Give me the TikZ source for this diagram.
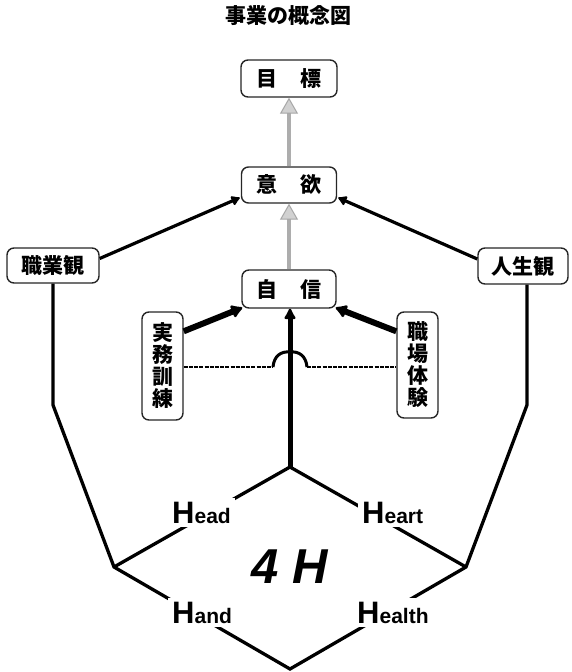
\documentclass[tikz,border=0pt]{standalone}
\usepackage{fontspec}
\newfontfamily\jp{Noto Sans CJK JP}
\newfontfamily\lat{Liberation Sans}
\usetikzlibrary{arrows.meta}
\begin{document}
\begin{tikzpicture}[x=1pt,y=-1pt,
  box/.style={draw=black!85, line width=1.4pt, rounded corners=7pt, fill=white, inner sep=0pt,
    font=\jp\bfseries\fontsize{21}{21}\selectfont},
  vbox/.style={box, align=center, font=\jp\bfseries\fontsize{21}{22}\selectfont},
  grayarrow/.style={line width=4.5pt, draw=black!32,
    -{Triangle[length=16pt,width=18pt,fill=black!18,color=black!35,line width=1pt]}},
  toarrow/.style={line width=3.2pt, -{Latex[round,length=10pt,width=12pt]}},
  thickarrow/.style={line width=6pt, -{Latex[round,length=13pt,width=16pt]}},
  centerarrow/.style={line width=5pt, -{Latex[round,length=13pt,width=14pt]}},
  edge/.style={line width=3.3pt},
  dashline/.style={line width=2pt, dash pattern=on 4pt off 1.2pt},
  bump/.style={line width=3pt},
  lbl/.style={anchor=base west, fill=white, inner sep=4pt}
]
\useasboundingbox (0,0) rectangle (571,672);

% title
\node[font=\jp\bfseries\fontsize{21}{21}\selectfont] (title) at (288,16) {事業の概念図};

% boxes
\node[box, minimum width=96pt, minimum height=37pt] (goal) at (289,78.5) {目\hspace{1.1em}標};
\node[box, minimum width=95pt, minimum height=36pt] (will) at (289,185) {意\hspace{1.1em}欲};
\node[box, minimum width=94pt, minimum height=38pt] (conf) at (289,289) {自\hspace{1.1em}信};
\node[box, minimum width=92pt, minimum height=35pt] (work) at (53,265.5) {職業観};
\node[box, minimum width=90pt, minimum height=36pt] (life) at (523,266) {人生観};
\node[vbox, minimum width=41pt, minimum height=108pt] (prac) at (162.5,366) {実\\務\\訓\\練};
\node[vbox, minimum width=41pt, minimum height=106pt] (exp) at (417.5,365) {職\\場\\体\\験};

% coordinates
\coordinate (T) at (290,467);
\coordinate (L) at (114,567);
\coordinate (B) at (290,669);
\coordinate (R) at (466,567);
\coordinate (LK) at (53,405);
\coordinate (RK) at (527,405);
\coordinate (jl) at (273,367);
\coordinate (jr) at (307,367);
\coordinate (jt) at (290,352);

% gray arrows
\draw[grayarrow] (will.north) -- (goal.south);
\draw[grayarrow] (conf.north) -- (will.south);

% to 意欲
\draw[toarrow] ([yshift=7pt]work.east) -- ([xshift=-1pt,yshift=6pt]will.south west);
\draw[toarrow] ([yshift=7pt]life.west) -- ([xshift=1pt,yshift=6pt]will.south east);

% to 自信
\draw[thickarrow] ([yshift=-20pt]prac.north east) -- ([xshift=1pt,yshift=1pt]conf.south west);
\draw[thickarrow] ([yshift=-20pt]exp.north west) -- ([xshift=-1pt,yshift=1pt]conf.south east);

% outline
\draw[edge] (work.south) -- (LK) -- (L) -- (B) -- (R) -- (RK) -- (RK |- life.south);
\draw[edge] (L) -- (T) -- (R);

% dashed link with jump
\draw[dashline] (prac.east |- jl) -- (jl);
\draw[dashline] (jr) -- (exp.west |- jr);
\draw[bump] (jl) .. controls (274,356) and (281,351) .. (jt) .. controls (299,351) and (306,356) .. (jr);

% center arrow
\draw[centerarrow] (T) -- (T |- conf.south);

% labels
\node[lbl] (head) at (168,523) {\lat\bfseries\fontsize{31}{31}\selectfont H\fontsize{21}{21}\selectfont ead};
\node[lbl] (heart) at (358,523) {\lat\bfseries\fontsize{31}{31}\selectfont H\fontsize{21}{21}\selectfont eart};
\node[lbl] (hand) at (168,623) {\lat\bfseries\fontsize{31}{31}\selectfont H\fontsize{21}{21}\selectfont and};
\node[lbl] (health) at (353,623) {\lat\bfseries\fontsize{31}{31}\selectfont H\fontsize{21}{21}\selectfont ealth};
\node[anchor=base, font=\lat\bfseries\itshape\fontsize{49}{49}\selectfont] (fourh) at (290,583) {4 H};
\end{tikzpicture}
\end{document}
